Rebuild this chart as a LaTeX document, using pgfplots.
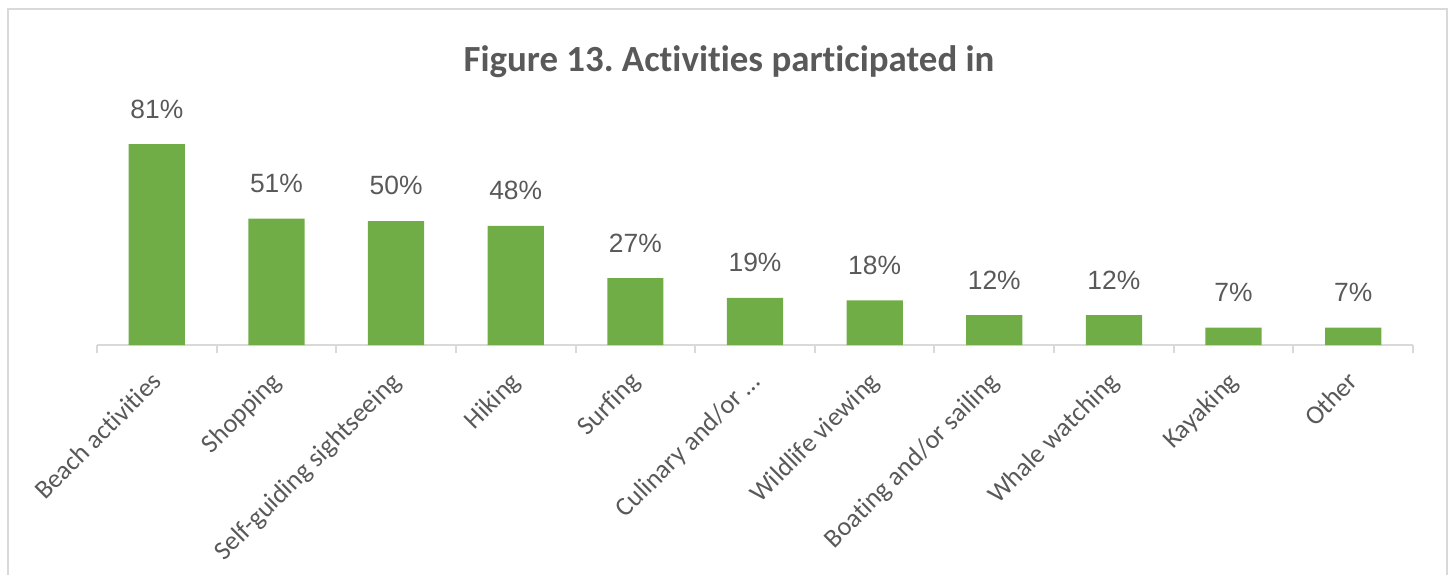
\documentclass[border=0pt]{standalone}
\usepackage{pgfplots}
\pgfplotsset{compat=1.18}
\usepackage{fontspec}
\setmainfont{Carlito}[Ligatures={NoCommon}]
\newfontfamily\arialfont{Liberation Sans}
\definecolor{bargreen}{HTML}{70AD47}
\definecolor{txtgray}{HTML}{595959}
\definecolor{linegray}{HTML}{D9D9D9}
\frenchspacing
\begin{document}
\begin{tikzpicture}[x=1bp,y=1bp]
\useasboundingbox (-48.5bp,-115bp) rectangle (678bp,172.5bp);
\draw[linegray, line width=1bp] (-44.5bp,-130bp) -- (-44.5bp,168bp) -- (675bp,168bp) -- (675bp,-130bp);
\node[anchor=base, text=txtgray, font=\fontsize{18.5}{22}\selectfont\bfseries] at (316bp,136.5bp) {Figure 13. Activities participated in};
\begin{axis}[
  at={(0,0)}, anchor=south west,
  scale only axis,
  width=658bp, height=124bp,
  xmin=-0.5, xmax=10.5, ymin=0, ymax=100,
  axis lines*=left,
  axis y line=none,
  axis x line*=bottom,
  x axis line style={linegray, line width=1bp},
  xtick={0,...,10},
  xticklabels={Beach activities, Shopping, Self-guiding sightseeing, Hiking, Surfing, Culinary and/or \dots, Wildlife viewing, Boating and/or sailing, Whale watching, Kayaking, Other},
  major tick length=0pt,
  minor xtick={-0.5,0.5,...,10.5},
  minor tick length=4bp,
  tick align=outside,
  minor tick style={linegray, line width=1bp},
  xticklabel style={rotate=45, anchor=north east, text=txtgray, font=\fontsize{13.25}{16}\selectfont, inner sep=0pt, xshift=-11.2bp, yshift=-6.3bp},
  /pgf/number format/assume math mode=true,
  clip=false,
  ybar, bar width=0.47,
  nodes near coords={\pgfmathprintnumber{\pgfplotspointmeta}\%},
  every node near coord/.append style={anchor=base, yshift=13bp, text=txtgray, font=\arialfont\fontsize{13.25}{16}\selectfont},
]
\addplot[fill=bargreen, draw=none] coordinates {(0,81) (1,51) (2,50) (3,48) (4,27) (5,19) (6,18) (7,12) (8,12) (9,7) (10,7)};
\end{axis}
\end{tikzpicture}
\end{document}
